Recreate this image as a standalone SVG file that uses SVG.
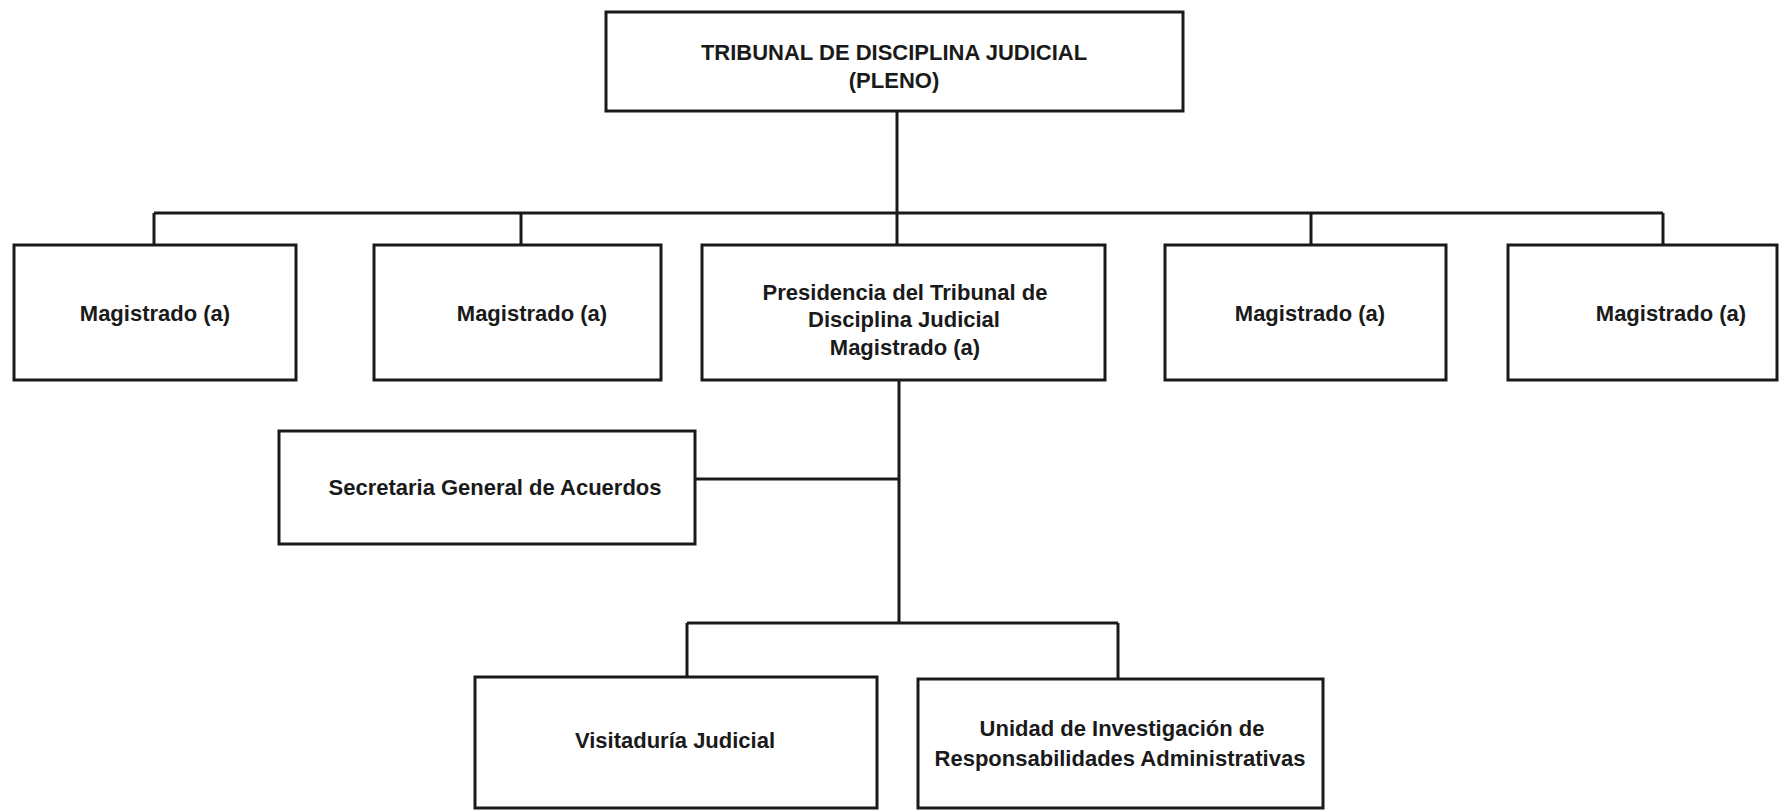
<svg xmlns="http://www.w3.org/2000/svg" width="1780" height="811" viewBox="0 0 1780 811">
<style>
.box{fill:#fff;stroke:#1a1a1a;stroke-width:3}
.ln{fill:none;stroke:#1a1a1a;stroke-width:3}
.t{font-family:"Liberation Sans",Arial,sans-serif;font-size:22px;font-weight:bold;fill:#1a1a1a;text-anchor:middle}
</style>
<rect width="1780" height="811" fill="#fff"/>
<g id="connectors">
<path class="ln" d="M897 111V213M154 213H1663M154 213V245M521 213V245M897 213V245M1311 213V245M1663 213V245"/>
<path class="ln" d="M899 380V623M695 479H899M687 623H1118M687 623V677M1118 623V679"/>
</g>
<g id="pleno"><rect class="box" x="606" y="12" width="577" height="99"/>
<text class="t" x="894" y="60">TRIBUNAL DE DISCIPLINA JUDICIAL</text><text class="t" x="894" y="88">(PLENO)</text></g>
<g id="mag1"><rect class="box" x="14" y="245" width="282" height="135"/><text class="t" x="155" y="321">Magistrado (a)</text></g>
<g id="mag2"><rect class="box" x="374" y="245" width="287" height="135"/><text class="t" x="532" y="321">Magistrado (a)</text></g>
<g id="presidencia"><rect class="box" x="702" y="245" width="403" height="135"/>
<text class="t" x="905" y="300">Presidencia del Tribunal de</text><text class="t" x="904" y="327">Disciplina Judicial</text><text class="t" x="905" y="355">Magistrado (a)</text></g>
<g id="mag3"><rect class="box" x="1165" y="245" width="281" height="135"/><text class="t" x="1310" y="321">Magistrado (a)</text></g>
<g id="mag4"><rect class="box" x="1508" y="245" width="269" height="135"/><text class="t" x="1671" y="321">Magistrado (a)</text></g>
<g id="secretaria"><rect class="box" x="279" y="431" width="416" height="113"/><text class="t" x="495" y="495">Secretaria General de Acuerdos</text></g>
<g id="visitaduria"><rect class="box" x="475" y="677" width="402" height="131"/><text class="t" x="675" y="748">Visitaduría Judicial</text></g>
<g id="unidad"><rect class="box" x="918" y="679" width="405" height="129"/>
<text class="t" x="1122" y="736">Unidad de Investigación de</text><text class="t" x="1120" y="766">Responsabilidades Administrativas</text></g>
</svg>
